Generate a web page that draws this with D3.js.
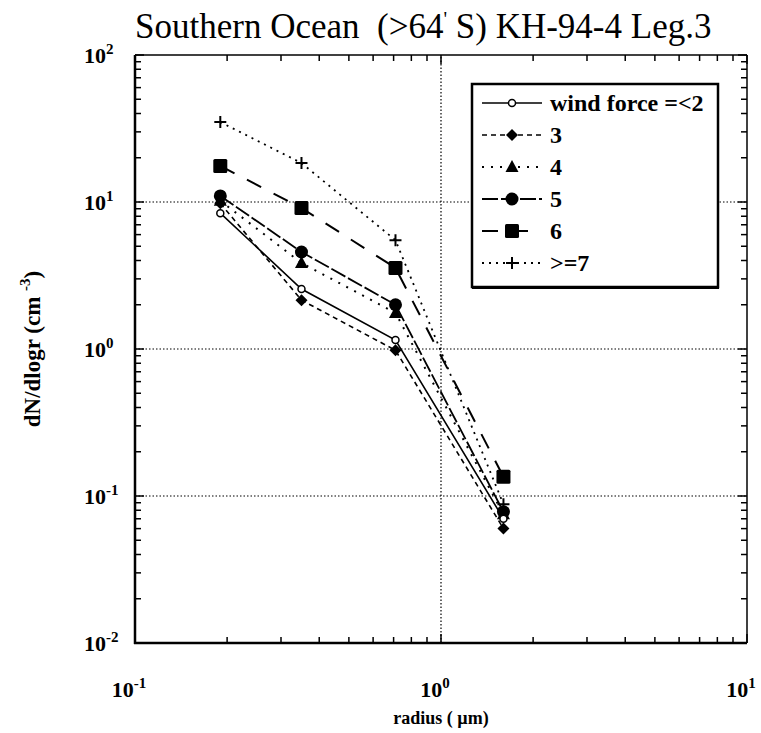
<!DOCTYPE html>
<html>
<head>
<meta charset="utf-8">
<script src="https://cdn.jsdelivr.net/npm/d3@7"></script>
<style>
  body { margin: 0; background: #fff; }
  svg, svg text { font-family: "Liberation Serif", "Times New Roman", Times, serif; }
</style>
</head>
<body>
<div id="chart"></div>
<script>
// radius (um) of the size bins
const radius = [0.19, 0.35, 0.71, 1.6];
// dN/dlogr (cm^-3) for each wind force class
const wf2 = [8.4, 2.56, 1.15, 0.07];
const wf3 = [9.8, 2.15, 0.98, 0.06];
const wf4 = [10.2, 3.85, 1.76, 0.075];
const wf5 = [11.0, 4.57, 2.0, 0.078];
const wf6 = [17.6, 9.1, 3.56, 0.135];
const wf7 = [35, 18.4, 5.5, 0.088];
const seriesNames = ["wind force =<2", "3", "4", "5", "6", ">=7"];
const xTicks = [0.1, 1, 10];
const yTicks = [0.01, 0.1, 1, 10, 100];

const series = [
  { name: seriesNames[0], values: wf2, dash: null, marker: "opencircle", width: 1.6 },
  { name: seriesNames[1], values: wf3, dash: "5,4", marker: "diamond", width: 1.6 },
  { name: seriesNames[2], values: wf4, dash: "2,7", marker: "triangle", width: 2 },
  { name: seriesNames[3], values: wf5, dash: "16,3", marker: "circle", width: 1.8 },
  { name: seriesNames[4], values: wf6, dash: "16,14", marker: "square", width: 2 },
  { name: seriesNames[5], values: wf7, dash: "2,5", marker: "plus", width: 1.8 }
];

const W = 761, H = 733;
const margin = { left: 135, right: 14, top: 55, bottom: 90 };

const svg = d3.select("#chart").append("svg")
  .attr("width", W).attr("height", H);

const x = d3.scaleLog().domain([0.1, 10]).range([margin.left, W - margin.right]);
const y = d3.scaleLog().domain([0.01, 100]).range([H - margin.bottom, margin.top]);

const x0 = x.range()[0], x1 = x.range()[1];
const y0 = y.range()[0], y1 = y.range()[1];

// title
svg.append("text")
  .attr("x", 135).attr("y", 38)
  .attr("font-size", 35)
  .attr("fill", "#000")
  .call(t => {
    t.append("tspan").text("Southern Ocean\u00a0\u00a0(>64");
    t.append("tspan").attr("dy", -12).attr("font-size", 20).text("'");
    t.append("tspan").attr("dy", 12).text(" S) KH-94-4 Leg.3");
  });

// grid lines
const grid = svg.append("g")
  .attr("stroke", "#000").attr("stroke-width", 1.2)
  .attr("stroke-dasharray", "1.5,2");
[0.1, 1, 10].forEach(v => {
  grid.append("line").attr("x1", x0).attr("x2", x1)
    .attr("y1", y(v)).attr("y2", y(v));
});
grid.append("line").attr("x1", x(1)).attr("x2", x(1))
  .attr("y1", y0).attr("y2", y1);

// minor/major ticks on all four sides
const xAll = [];
for (let d = -1; d < 1; d++) for (let k = 1; k < 10; k++) xAll.push(k * Math.pow(10, d));
xAll.push(10);
const yAll = [];
for (let d = -2; d < 2; d++) for (let k = 1; k < 10; k++) yAll.push(k * Math.pow(10, d));
yAll.push(100);

const ticks = svg.append("g").attr("stroke", "#000").attr("stroke-width", 1.5);
xAll.forEach((v, i) => {
  const len = (i % 9 === 0) ? 9 : 6;
  ticks.append("line").attr("x1", x(v)).attr("x2", x(v)).attr("y1", y0).attr("y2", y0 - len);
  ticks.append("line").attr("x1", x(v)).attr("x2", x(v)).attr("y1", y1).attr("y2", y1 + len);
});
yAll.forEach((v, i) => {
  const len = (i % 9 === 0) ? 9 : 6;
  ticks.append("line").attr("x1", x0).attr("x2", x0 + len).attr("y1", y(v)).attr("y2", y(v));
  ticks.append("line").attr("x1", x1).attr("x2", x1 - len).attr("y1", y(v)).attr("y2", y(v));
});

// frame
svg.append("line").attr("x1", x0).attr("x2", x1).attr("y1", y1).attr("y2", y1)
  .attr("stroke", "#000").attr("stroke-width", 1.5);
svg.append("line").attr("x1", x1).attr("x2", x1).attr("y1", y1).attr("y2", y0)
  .attr("stroke", "#000").attr("stroke-width", 1.5);
svg.append("line").attr("x1", x0).attr("x2", x0).attr("y1", y1).attr("y2", y0 + 1)
  .attr("stroke", "#000").attr("stroke-width", 2.5);
svg.append("line").attr("x1", x0 - 1).attr("x2", x1).attr("y1", y0).attr("y2", y0)
  .attr("stroke", "#000").attr("stroke-width", 2.5);

// tick labels
const supLabel = (sel, exp) => {
  sel.append("tspan").text("10");
  sel.append("tspan").attr("dy", -9).attr("font-size", 15).text(exp);
};
xTicks.forEach(v => {
  svg.append("text")
    .attr("x", x(v) - 6).attr("y", 697)
    .attr("text-anchor", "middle")
    .attr("font-size", 22).attr("font-weight", "bold")
    .call(t => supLabel(t, String(Math.round(Math.log10(v)))));
});
yTicks.forEach(v => {
  svg.append("text")
    .attr("x", 84).attr("y", y(v) + 8)
    .attr("font-size", 22).attr("font-weight", "bold")
    .call(t => supLabel(t, String(Math.round(Math.log10(v)))));
});

// axis titles
svg.append("text")
  .attr("x", x(1)).attr("y", 724)
  .attr("text-anchor", "middle")
  .attr("font-size", 18).attr("font-weight", "bold")
  .text("radius ( \u00b5m)");
svg.append("text")
  .attr("transform", `translate(40, ${y(1)}) rotate(-90)`)
  .attr("text-anchor", "middle")
  .attr("font-size", 23).attr("font-weight", "bold")
  .call(t => {
    t.append("tspan").text("dN/dlogr (cm\u00a0");
    t.append("tspan").attr("dy", -10).attr("font-size", 15).text("-3");
    t.append("tspan").attr("dy", 10).text(")");
  });

// markers
const drawMarker = (g, type, cx, cy) => {
  if (type === "opencircle") {
    g.append("circle").attr("cx", cx).attr("cy", cy).attr("r", 3.5)
      .attr("fill", "#fff").attr("stroke", "#000").attr("stroke-width", 1.5);
  } else if (type === "circle") {
    g.append("circle").attr("cx", cx).attr("cy", cy).attr("r", 6.5).attr("fill", "#000");
  } else if (type === "square") {
    g.append("rect").attr("x", cx - 7).attr("y", cy - 7).attr("width", 14).attr("height", 14)
      .attr("rx", 1.5).attr("fill", "#000");
  } else if (type === "diamond") {
    g.append("path").attr("d", `M${cx},${cy - 6}L${cx + 6},${cy}L${cx},${cy + 6}L${cx - 6},${cy}Z`)
      .attr("fill", "#000");
  } else if (type === "triangle") {
    g.append("path").attr("d", `M${cx},${cy - 7}L${cx + 6.5},${cy + 5}L${cx - 6.5},${cy + 5}Z`)
      .attr("fill", "#000");
  } else if (type === "plus") {
    g.append("path").attr("d", `M${cx - 6},${cy}H${cx + 6}M${cx},${cy - 6}V${cy + 6}`)
      .attr("stroke", "#000").attr("stroke-width", 2).attr("fill", "none");
  }
};

const line = d3.line().x((d, i) => x(radius[i])).y(d => y(d));
const plot = svg.append("g");
series.forEach(s => {
  plot.append("path")
    .attr("d", line(s.values))
    .attr("fill", "none").attr("stroke", "#000")
    .attr("stroke-width", s.width)
    .attr("stroke-dasharray", s.dash);
});
series.slice().reverse().forEach(s => {
  s.values.forEach((v, i) => drawMarker(plot, s.marker, x(radius[i]), y(v)));
});

// legend
const lg = svg.append("g");
lg.append("rect")
  .attr("x", 472).attr("y", 84).attr("width", 246).attr("height", 203)
  .attr("fill", "#fff").attr("stroke", "#000").attr("stroke-width", 2.5);
lg.append("line").attr("x1", 472).attr("x2", 719).attr("y1", 288).attr("y2", 288)
  .attr("stroke", "#000").attr("stroke-width", 2);
series.forEach((s, i) => {
  const ly = 103 + i * 32;
  lg.append("line")
    .attr("x1", 482).attr("x2", 542).attr("y1", ly).attr("y2", ly)
    .attr("stroke", "#000").attr("stroke-width", s.width)
    .attr("stroke-dasharray", s.dash);
  drawMarker(lg, s.marker, 512, ly);
  lg.append("text")
    .attr("x", 550).attr("y", ly + 8)
    .attr("font-size", 24).attr("font-weight", "bold")
    .text(s.name);
});
</script>
</body>
</html>
